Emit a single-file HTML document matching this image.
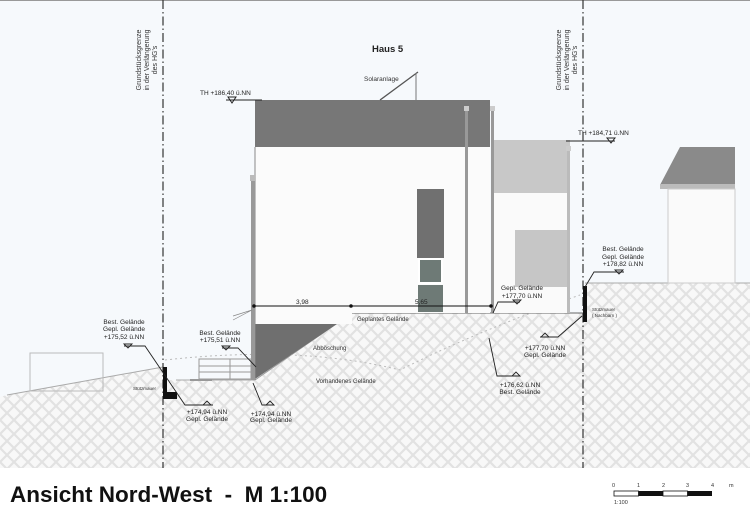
<!DOCTYPE html>
<html><head><meta charset="utf-8"><style>
html,body{margin:0;padding:0;background:#fff;}
svg{display:block;font-family:"Liberation Sans",sans-serif;}
</style></head><body>
<svg width="750" height="527" viewBox="0 0 750 527" xmlns="http://www.w3.org/2000/svg">
<defs>
<pattern id="h" width="14" height="14" patternUnits="userSpaceOnUse">
<rect width="14" height="14" fill="#f8f8f8"/>
<path d="M0 0L14 14M14 0L0 14M-7 7L0 14M7 -7L14 0M7 21L21 7" stroke="#e2e2e2" stroke-width="2.2"/>
</pattern>
</defs>
<rect x="0" y="0" width="750" height="468" fill="#f6f9fc"/>
<line x1="0" y1="0.5" x2="750" y2="0.5" stroke="#999"/>
<polygon points="0,397 7,395 163,367 163,380 255,380 352,313 585,313 585,283 750,283 750,468 0,468" fill="url(#h)"/>
<polyline points="7,395 163,367" fill="none" stroke="#aaa"/>
<line x1="176" y1="380" x2="255" y2="380" stroke="#aaa"/>
<line x1="255" y1="380" x2="352" y2="313" stroke="#999"/>
<line x1="352" y1="313" x2="585" y2="313" stroke="#666"/>
<line x1="585" y1="283" x2="750" y2="283" stroke="#aaa"/>
<path d="M165 360 Q300 345 400 370 Q480 330 580 295" fill="none" stroke="#bbb" stroke-dasharray="2,3"/>
<rect x="30" y="353" width="73" height="38" fill="none" stroke="#bbb"/>
<g stroke="#999" fill="none"><rect x="199" y="359" width="52" height="20"/><line x1="199" y1="366" x2="251" y2="366"/><line x1="199" y1="372" x2="251" y2="372"/><line x1="230" y1="359" x2="230" y2="379"/><line x1="190" y1="380" x2="212" y2="380" stroke-width="2"/></g>
<polygon points="660,185 680,147 735,147 735,185" fill="#8a8a8a"/>
<rect x="660" y="184" width="75" height="5" fill="#bbb"/>
<rect x="668" y="189" width="67" height="94" fill="#fafafa" stroke="#ccc"/>
<rect x="492" y="140" width="78" height="53" fill="#c8c8c8"/>
<rect x="492" y="193" width="78" height="120" fill="#fafafa"/>
<rect x="515" y="230" width="52" height="57" fill="#c6c6c6"/>
<rect x="567" y="148" width="3" height="165" fill="#bbb"/>
<rect x="566" y="146" width="5" height="5" fill="#ccc"/>
<rect x="255" y="100" width="235" height="47" fill="#777"/>
<rect x="255" y="147" width="235" height="166" fill="#fbfbfb"/>
<rect x="255" y="313" width="97" height="11" fill="#fbfbfb"/>
<polygon points="255,324 337,324 255,379" fill="#6f6f6f"/>
<line x1="255" y1="147" x2="255" y2="380" stroke="#888"/>
<rect x="251" y="180" width="4" height="200" fill="#999"/>
<rect x="250" y="175" width="5" height="6" fill="#bbb"/>
<rect x="465" y="108" width="3" height="205" fill="#999"/>
<rect x="464" y="106" width="5" height="5" fill="#ccc"/>
<rect x="491" y="108" width="3" height="205" fill="#999"/>
<rect x="490" y="106" width="5" height="5" fill="#ccc"/>
<rect x="417" y="189" width="27" height="69" fill="#707070"/>
<rect x="418" y="258" width="25" height="26" fill="#fff"/>
<rect x="420" y="260" width="21" height="22" fill="#6e7a76"/>
<rect x="418" y="285" width="25" height="27" fill="#6e7a76"/>
<line x1="380" y1="100" x2="418" y2="72" stroke="#555" stroke-width="1.3"/>
<line x1="416" y1="73" x2="416" y2="100" stroke="#777"/>
<text x="364" y="81" font-size="6.5" fill="#333">Solaranlage</text>
<text x="372" y="52" font-size="9.5" font-weight="bold" fill="#222">Haus 5</text>
<text x="200" y="95" font-size="6.5" fill="#222">TH +186,40 ü.NN</text>
<line x1="226" y1="100" x2="262" y2="100" stroke="#222"/>
<polygon points="228,97 236,97 232,103" fill="none" stroke="#222"/>
<text x="578" y="135" font-size="6.5" fill="#222">TH +184,71 ü.NN</text>
<line x1="566" y1="141" x2="615" y2="141" stroke="#222"/>
<polygon points="607,138 615,138 611,143" fill="none" stroke="#222"/>
<line x1="163" y1="0" x2="163" y2="468" stroke="#333" stroke-width="1.2" stroke-dasharray="9,3,1.5,3"/>
<line x1="583" y1="0" x2="583" y2="468" stroke="#333" stroke-width="1.2" stroke-dasharray="9,3,1.5,3"/>
<g font-size="7" fill="#333" text-anchor="middle">
<text transform="translate(141,60) rotate(-90)">Grundstücksgrenze</text>
<text transform="translate(149,60) rotate(-90)">in der Verlängerung</text>
<text transform="translate(157,60) rotate(-90)">des HG's</text>
<text transform="translate(561,60) rotate(-90)">Grundstücksgrenze</text>
<text transform="translate(569,60) rotate(-90)">in der Verlängerung</text>
<text transform="translate(577,60) rotate(-90)">des HG's</text>
</g>
<line x1="254" y1="306" x2="492" y2="306" stroke="#111"/>
<g fill="#111"><circle cx="254" cy="306" r="1.8"/><circle cx="351" cy="306" r="1.8"/><circle cx="491" cy="306" r="1.8"/></g>
<text x="296" y="304" font-size="6.5" fill="#222">3,98</text>
<text x="415" y="304" font-size="6.5" fill="#222">5,65</text>
<polyline points="233,320 252,310 233,316" fill="none" stroke="#888" stroke-width="0.7"/>
<text x="357" y="321" font-size="6" fill="#333">Geplantes Gelände</text>
<text x="313" y="350" font-size="6" fill="#333">Abböschung</text>
<text x="316" y="383" font-size="6" fill="#333">Vorhandenes Gelände</text>
<polygon points="163,367 167,367 167,392 177,392 177,399 163,399" fill="#111"/>
<text x="133" y="390" font-size="4.5" fill="#333">Stützmauer</text>
<rect x="583" y="286" width="4" height="36" fill="#111"/>
<text x="592" y="311" font-size="4.5" fill="#333">Stützmauer</text>
<text x="592" y="317" font-size="4.5" fill="#333">( Nachbarn )</text>
<g font-size="6.5" fill="#222" text-anchor="middle" stroke-width="0.9">
<text x="124" y="324">Best. Gelände</text><text x="124" y="331">Gepl. Gelände</text><text x="124" y="339">+175,52 ü.NN</text>
<polygon points="124,344 132,344 128,348" fill="none" stroke="#222"/>
<polyline points="124,346 145,346 185,405 213,405" fill="none" stroke="#222"/>
<polygon points="203,405 211,405 207,401" fill="none" stroke="#222"/>
<text x="207" y="414">+174,94 ü.NN</text><text x="207" y="421">Gepl. Gelände</text>
<text x="220" y="335">Best. Gelände</text><text x="220" y="342">+175,51 ü.NN</text>
<polygon points="222,346 230,346 226,350" fill="none" stroke="#222"/>
<polyline points="222,348 238,348 256,367" fill="none" stroke="#222"/>
<polyline points="253,383 262,405 272,405" fill="none" stroke="#222"/>
<polygon points="266,405 274,405 270,401" fill="none" stroke="#222"/>
<text x="271" y="416">+174,94 ü.NN</text><text x="271" y="422">Gepl. Gelände</text>
<text x="522" y="290">Gepl. Gelände</text><text x="522" y="298">+177,70 ü.NN</text>
<polyline points="493,313 498,302 520,302" fill="none" stroke="#222"/>
<polygon points="513,300 521,300 517,304" fill="none" stroke="#222"/>
<text x="623" y="251">Best. Gelände</text><text x="623" y="259">Gepl. Gelände</text><text x="623" y="266">+178,82 ü.NN</text>
<polyline points="585,287 594,272 624,272" fill="none" stroke="#222"/>
<polygon points="615,270 623,270 619,274" fill="none" stroke="#222"/>
<polyline points="582,316 558,337 540,337" fill="none" stroke="#222"/>
<polygon points="541,337 549,337 545,333" fill="none" stroke="#222"/>
<text x="545" y="350">+177,70 ü.NN</text><text x="545" y="357">Gepl. Gelände</text>
<polyline points="489,338 497,376 520,376" fill="none" stroke="#222"/>
<polygon points="512,376 520,376 516,372" fill="none" stroke="#222"/>
<text x="520" y="387">+176,62 ü.NN</text><text x="520" y="394">Best. Gelände</text>
</g>
<text x="10" y="502" font-size="22.5" font-weight="bold" fill="#111" xml:space="preserve">Ansicht Nord-West  -  M 1:100</text>
<g font-size="5.5" fill="#333">
<text x="612" y="487">0</text><text x="637" y="487">1</text><text x="662" y="487">2</text><text x="686" y="487">3</text><text x="711" y="487">4</text><text x="729" y="487">m</text>
<rect x="614" y="491" width="24.5" height="5" fill="#fff" stroke="#111" stroke-width="0.8"/>
<rect x="638.5" y="491" width="24.5" height="5" fill="#111"/>
<rect x="663" y="491" width="24.5" height="5" fill="#fff" stroke="#111" stroke-width="0.8"/>
<rect x="687.5" y="491" width="24.5" height="5" fill="#111"/>
<text x="614" y="504">1:100</text>
</g>
</svg>
</body></html>
